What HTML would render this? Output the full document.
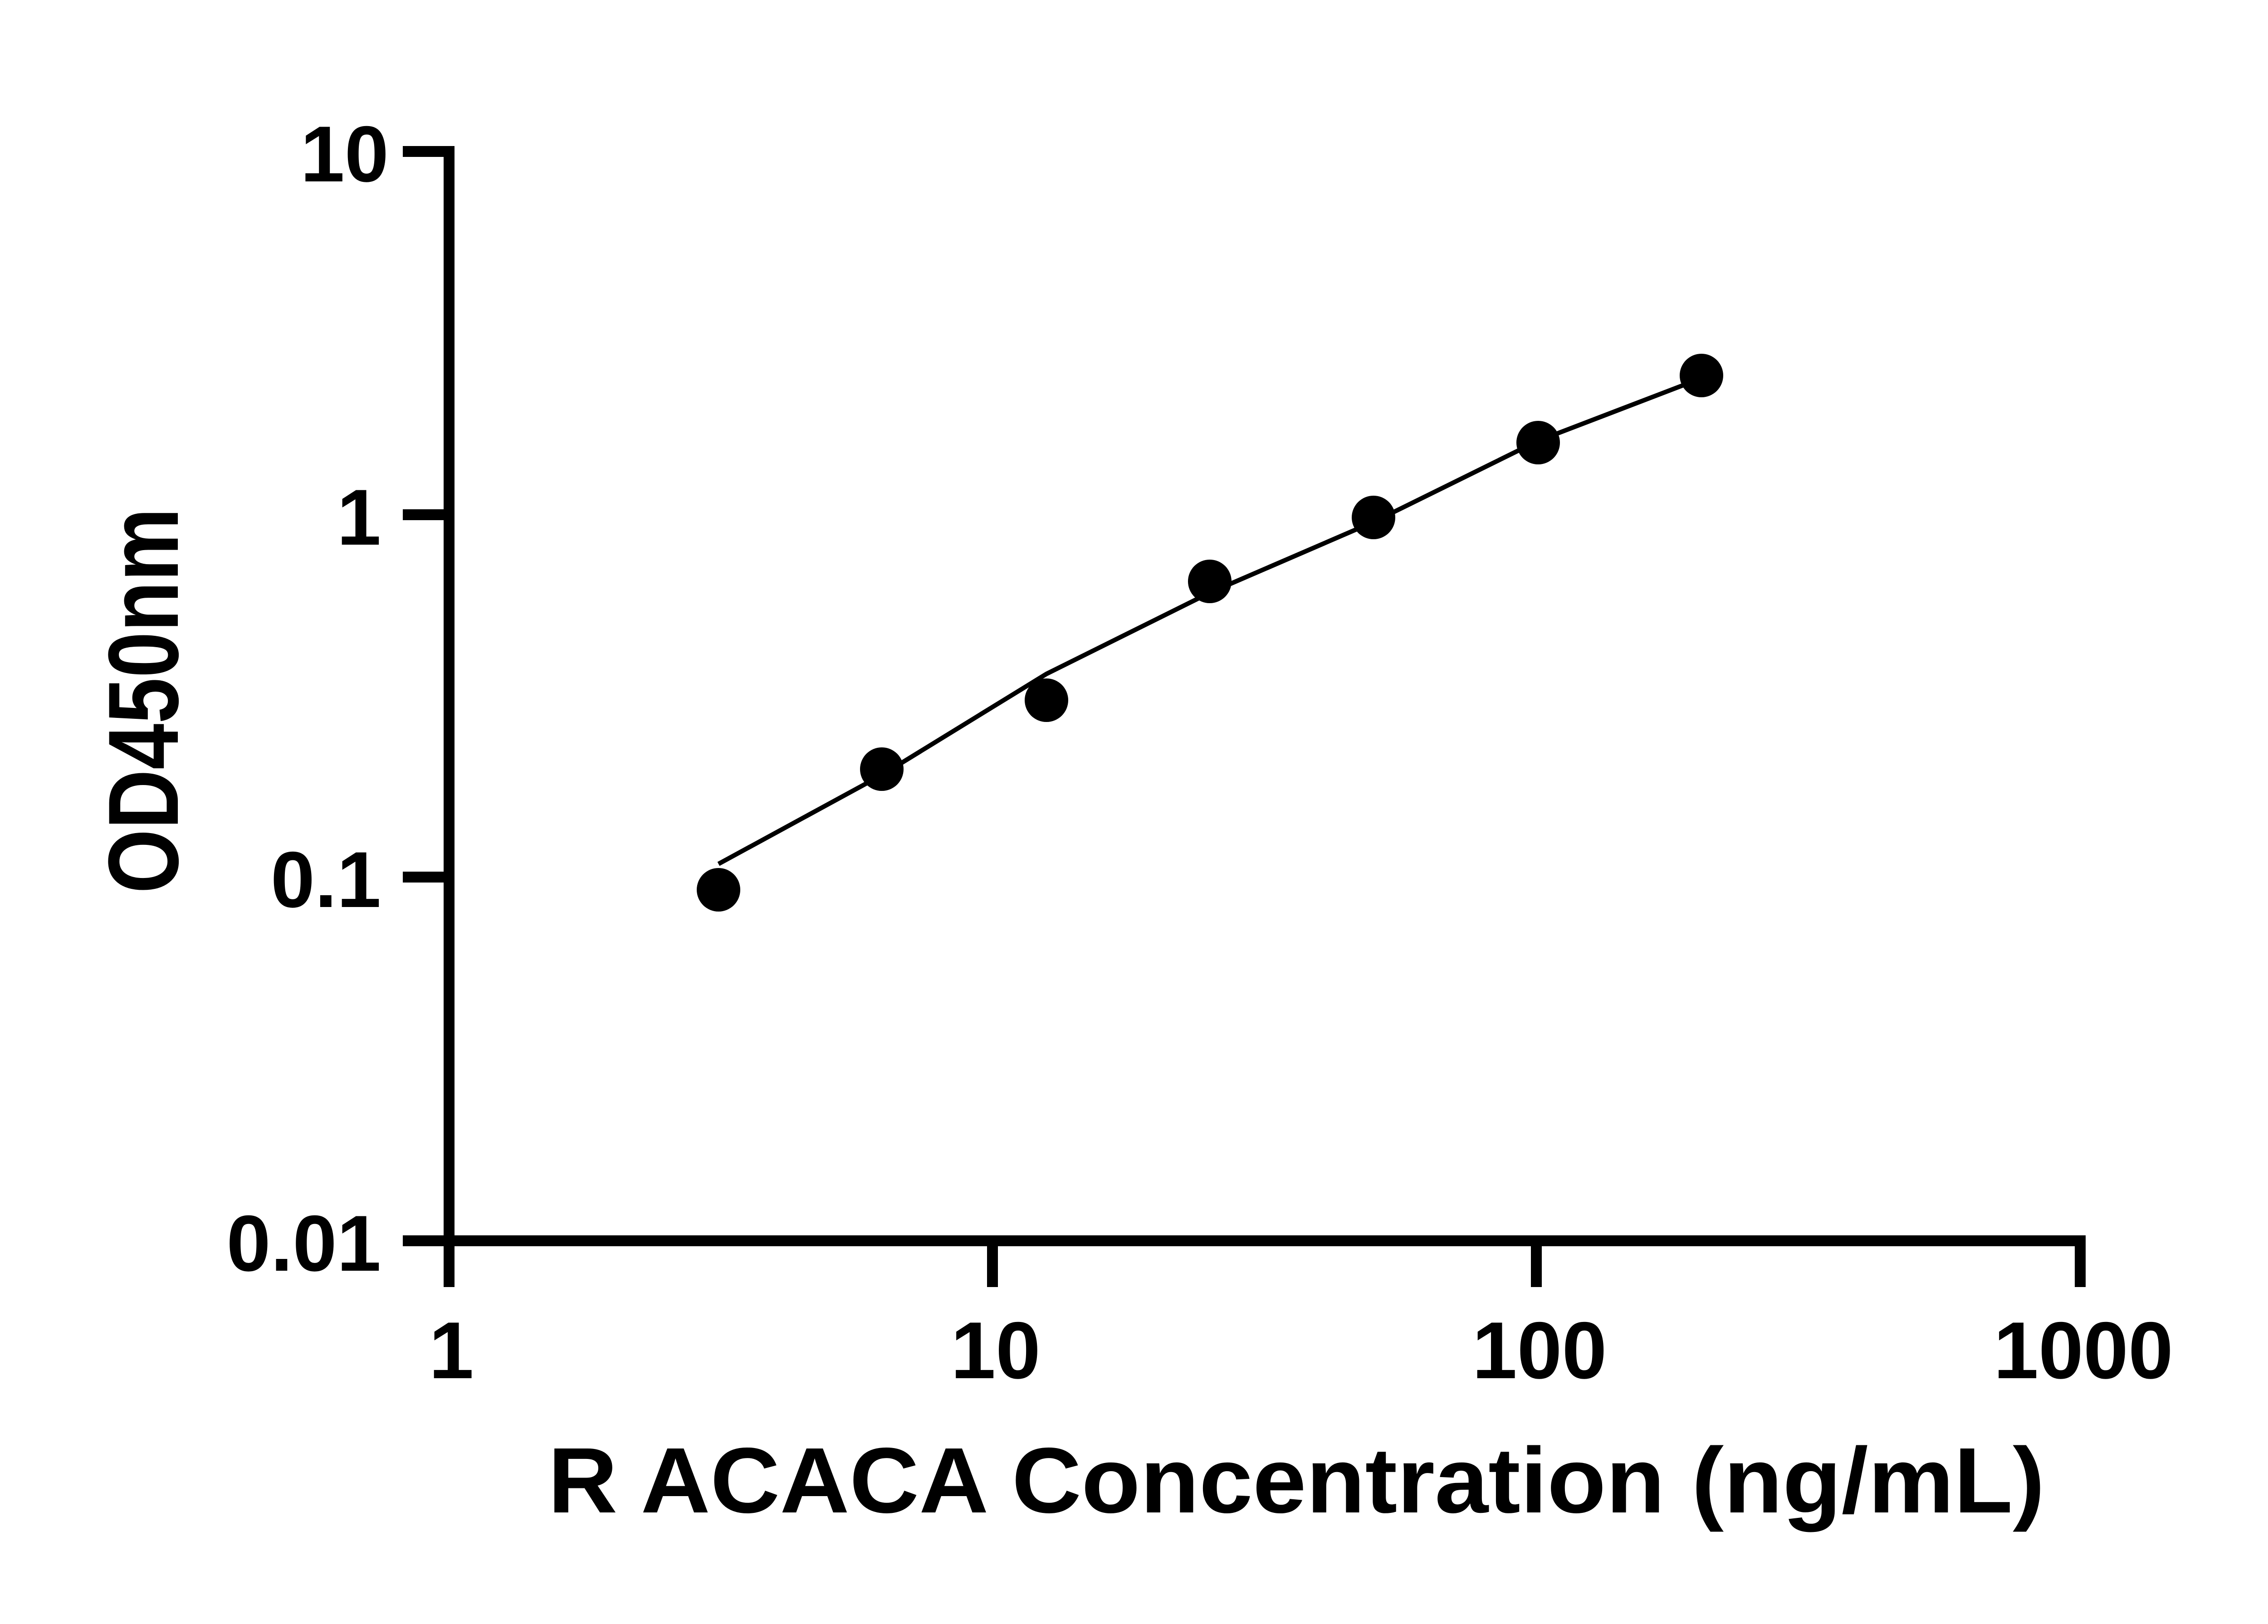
<!DOCTYPE html>
<html><head><meta charset="utf-8"><style>html,body{margin:0;padding:0;background:#fff}</style></head>
<body>
<svg width="5142" height="3576" viewBox="0 0 5142 3576" xmlns="http://www.w3.org/2000/svg">
<rect width="5142" height="3576" fill="#fff"/>
<g stroke="#000" stroke-width="24" fill="none">
<line x1="990" y1="322" x2="990" y2="2838"/>
<line x1="978" y1="2736" x2="4598" y2="2736"/>
<line x1="888" y1="334" x2="990" y2="334"/>
<line x1="888" y1="1135" x2="990" y2="1135"/>
<line x1="888" y1="1934" x2="990" y2="1934"/>
<line x1="888" y1="2736" x2="990" y2="2736"/>
<line x1="2188" y1="2736" x2="2188" y2="2838"/>
<line x1="3387" y1="2736" x2="3387" y2="2838"/>
<line x1="4586" y1="2736" x2="4586" y2="2838"/>
</g>
<polyline fill="none" stroke="#000" stroke-width="10" points="1584,1905 1944,1709 2307,1486 2667,1307 3028,1151 3391,972 3751,834"/>
<g fill="#000">
<circle cx="1584" cy="1962" r="48"/>
<circle cx="1944" cy="1696" r="48"/>
<circle cx="2307" cy="1544" r="48"/>
<circle cx="2667" cy="1282" r="48"/>
<circle cx="3028" cy="1141" r="48"/>
<circle cx="3391" cy="976" r="48"/>
<circle cx="3751" cy="828" r="48"/>
</g>
<g font-family="Liberation Sans, sans-serif" font-weight="bold" font-size="175" fill="#000" text-anchor="end">
<text x="857" y="400">10</text>
<text x="840" y="1201">1</text>
<text x="840" y="2000">0.1</text>
<text x="840" y="2802">0.01</text>
</g>
<g font-family="Liberation Sans, sans-serif" font-weight="bold" font-size="178" fill="#000" text-anchor="middle">
<text x="995" y="3039">1</text>
<text x="2195" y="3039">10</text>
<text x="3394" y="3039">100</text>
<text x="4593" y="3039">1000</text>
</g>
<text x="2858" y="3335" font-family="Liberation Sans, sans-serif" font-weight="bold" font-size="205" text-anchor="middle" textLength="3300" lengthAdjust="spacingAndGlyphs">R ACACA Concentration (ng/mL)</text>
<text transform="translate(392,1545) rotate(-90)" font-family="Liberation Sans, sans-serif" font-weight="bold" font-size="220" text-anchor="middle" textLength="850" lengthAdjust="spacingAndGlyphs">OD450nm</text>
</svg>
</body></html>
